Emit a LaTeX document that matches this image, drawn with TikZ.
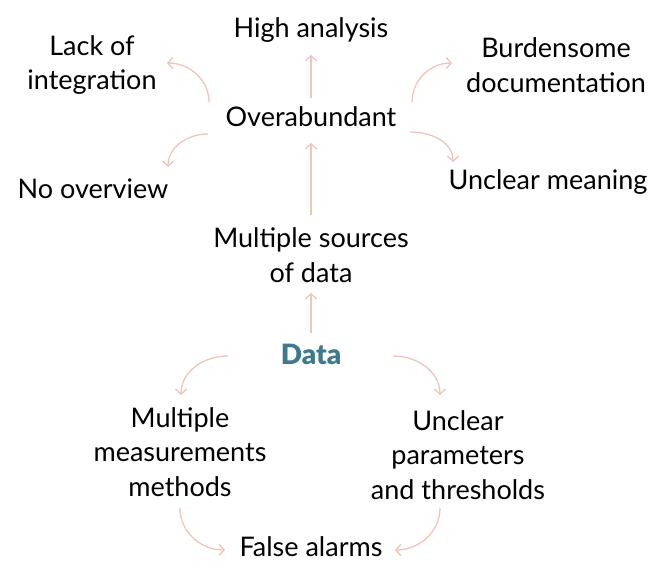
\documentclass[tikz,border=0pt]{standalone}
\usepackage{fontspec}
\setmainfont{Lato}
\newfontfamily\heavyfont{Lato Black}
\usetikzlibrary{arrows.meta}
\definecolor{arr}{HTML}{EDC5BB}
\definecolor{teal}{HTML}{3E7A8B}
\tikzset{
  lbl/.style={font=\fontsize{27}{34.5}\selectfont, align=center, inner sep=0pt, text=black},
  conn/.style={draw=arr, line width=1.3pt, -{Straight Barb[length=5pt,width=11pt,line width=1.3pt]}},
}
\begin{document}
\begin{tikzpicture}[x=1pt,y=1pt]
\useasboundingbox (0,0) rectangle (654,-563);
\node[lbl] (high) at (311,-30) {High analysis};
\node[lbl] (lack) at (92,-65) {Lack of\\integration};
\node[lbl] (burd) at (556,-65) {Burdensome\\documentation};
\node[lbl] (over) at (311,-117) {Overabundant};
\node[lbl] (nov) at (93,-189) {No overview};
\node[lbl] (uncm) at (548,-182) {Unclear meaning};
\node[lbl] (msrc) at (311,-255) {Multiple sources\\of data};
\node[lbl, font=\fontsize{28}{30}\selectfont\heavyfont, text=teal] (data) at (311,-354) {Data};
\node[lbl] (mmm) at (180,-452) {Multiple\\measurements\\methods};
\node[lbl] (upt) at (458,-455) {Unclear\\parameters\\and thresholds};
\node[lbl] (fa) at (311,-547) {False alarms};
% free ends
\coordinate (o1) at (209,-102);
\coordinate (l1) at (167,-63);
\coordinate (o2) at (208,-134);
\coordinate (n1) at (168,-167);
\coordinate (o3) at (412,-102);
\coordinate (b1) at (452,-63);
\coordinate (o4) at (410,-132);
\coordinate (u1) at (453,-162);
\coordinate (d1) at (228,-356);
\coordinate (m1) at (181,-395);
\coordinate (d2) at (393,-356);
\coordinate (p1) at (440,-395);
\coordinate (m2) at (180,-508);
\coordinate (f1) at (225,-550);
\coordinate (p2) at (440,-508);
\coordinate (f2) at (395,-550);
% vertical
\draw[conn] (over.north |- 0,-98) -- (high.south |- 0,-55);
\draw[conn] (msrc.north |- 0,-215) -- (over.south |- 0,-143);
\draw[conn] (data.north |- 0,-333) -- (msrc.south |- 0,-293);
% curves
\draw[conn] (o1) to[out=90,in=0] (l1);
\draw[conn] (o2) to[out=180,in=90] (n1);
\draw[conn] (o3) to[out=90,in=180] (b1);
\draw[conn] (o4) to[out=0,in=90] (u1);
\draw[conn] (d1) to[out=180,in=90] (m1);
\draw[conn] (d2) to[out=0,in=90] (p1);
\draw[conn] (m2) to[out=-90,in=180] (f1);
\draw[conn] (p2) to[out=-90,in=0] (f2);
\end{tikzpicture}
\end{document}
